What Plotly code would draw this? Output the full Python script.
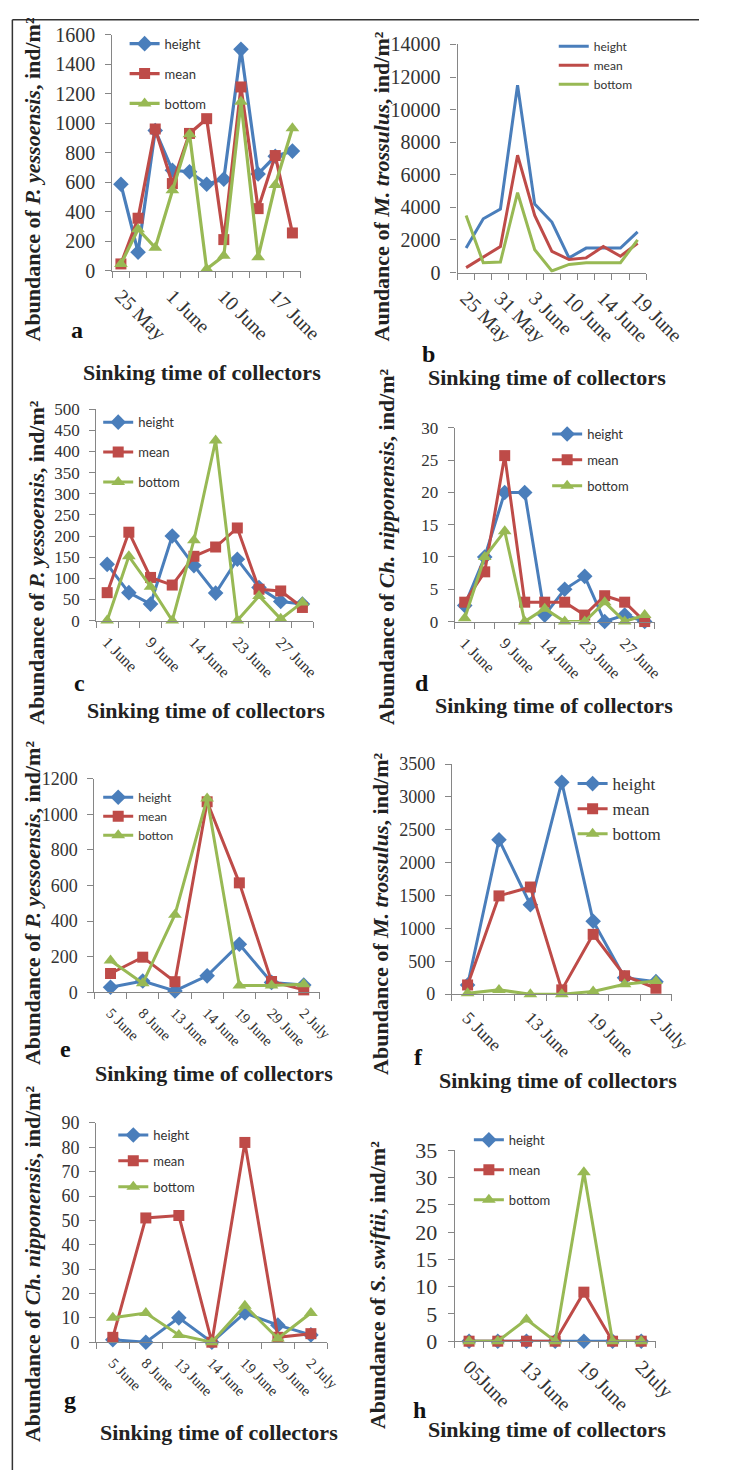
import plotly.graph_objects as go

FIG_W, FIG_H = 739, 1483

# ---------------- data ----------------
SERIES = ["height", "mean", "bottom"]

# a: P. yessoensis, 11 collector sinkings
a_ticks = [0, 3, 6, 9]
a_labels = ["25 May", "1 June", "10 June", "17 June"]
a_height = [585, 125, 950, 680, 670, 585, 620, 1500, 655, 775, 810]
a_mean = [45, 355, 960, 590, 930, 1030, 210, 1245, 420, 780, 255]
a_bottom = [45, 280, 155, 545, 925, 10, 100, 1145, 90, 580, 965]

# b: M. trossulus
b_ticks = [0, 2, 4, 6, 8, 10]
b_labels = ["25 May", "31 May", "3 June", "10 June", "14 June", "19 June"]
b_height = [1500, 3300, 3900, 11500, 4200, 3100, 900, 1500, 1500, 1500, 2500]
b_mean = [300, 950, 1600, 7200, 3500, 1300, 800, 900, 1600, 1000, 1800]
b_bottom = [3500, 600, 650, 4900, 1400, 100, 500, 600, 600, 600, 2000]

# c: P. yessoensis
c_ticks = [0, 2, 4, 6, 8]
c_labels = ["1 June", "9 June", "14 June", "23 June", "27 June"]
c_height = [133, 66, 39, 200, 130, 65, 145, 78, 45, 39]
c_mean = [66, 209, 102, 84, 152, 174, 219, 74, 70, 31]
c_bottom = [0, 152, 80, 0, 190, 426, 0, 58, 4, 43]

# d: Ch. nipponensis
d_ticks = [0, 2, 4, 6, 8]
d_labels = ["1 June", "9 June", "14 June", "23 June", "27 June"]
d_height = [2.5, 10, 20, 20, 1, 5, 7, 0, 1, 0]
d_mean = [3, 7.7, 25.7, 3, 3, 3, 1, 4, 3, 0]
d_bottom = [0.5, 10, 14, 0, 2, 0, 0, 3, 0, 1]

# e: P. yessoensis
e_ticks = [0, 1, 2, 3, 4, 5, 6]
e_labels = ["5 June", "8 June", "13 June", "14 June", "19 June", "29 June", "2 July"]
e_height = [28, 63, 7, 92, 270, 55, 40]
e_mean = [105, 197, 59, 1071, 615, 60, 13]
e_bottom = [178, 50, 436, 1090, 37, 37, 44]

# f: M. trossulus
f_ticks = [0, 2, 4, 6]
f_labels = ["5 June", "13 June", "19 June", "2 July"]
f_height = [140, 2350, 1360, 3225, 1110, 250, 190]
f_mean = [140, 1495, 1630, 65, 910, 280, 90]
f_bottom = [15, 65, 0, 0, 40, 150, 200]

# g: Ch. nipponensis
g_ticks = [0, 1, 2, 3, 4, 5, 6]
g_labels = ["5 June", "8 June", "13 June", "14 June", "19 June", "29 June", "2 July"]
g_height = [1, 0, 10, 0, 12, 7, 3]
g_mean = [2, 51, 52, 0, 82, 2, 3.5]
g_bottom = [10, 12, 3, 0, 15, 1.5, 12]

# h: S. swiftii
h_ticks = [0, 2, 4, 6]
h_labels = ["05June", "13 June", "19 June", "2July"]
h_height = [0, 0, 0, 0, 0, 0, 0]
h_mean = [0, 0, 0, 0, 9, 0, 0]
h_bottom = [0, 0, 4, 0, 31, 0, 0]

# ---------------- styling ----------------
SERIF = "Liberation Serif, Times New Roman, serif"
SANS = "Lato, Carlito, Calibri, sans-serif"
LINE_COLORS = ["#4A7EBB", "#BE4B48", "#98B954"]
SYMBOLS = ["diamond", "square", "triangle-up"]
SYM_SIZE = [12, 11, 12]
AXIS_COLOR = "#868686"
TEXT_COLOR = "#333333"
TITLE_COLOR = "#222222"


def fx(px):
    return px / FIG_W


def fy(py):
    return 1 - py / FIG_H


def ytitle(species, first="Abundance"):
    return f"{first} of <i>{species}</i>, ind/m²"


panels = [
    dict(key="a", series=(a_height, a_mean, a_bottom), ticks=a_ticks, labels=a_labels,
         ymax=1600, dtick=200, box=(117, 317, 23, 263), markers=True, lw=3.2,
         ytf=20, xtf=20, leg=(130, 17, 13, 10, SANS),
         ytitle=(ytitle("P. yessoensis"), 32, 337), xtitle=(212, 367), letter=(80, 323)),
    dict(key="b", series=(b_height, b_mean, b_bottom), ticks=b_ticks, labels=b_labels,
         ymax=14000, dtick=2000, box=(483, 683, 33, 265), markers=False, lw=3,
         ytf=20, xtf=20, leg=(585, 20, 12, 0, SANS),
         ytitle=(ytitle("M. trossulus", "Aundance"), 402, 337), xtitle=(578, 372), letter=(452, 348)),
    dict(key="c", series=(c_height, c_mean, c_bottom), ticks=c_ticks, labels=c_labels,
         ymax=500, dtick=50, box=(100, 330, 404, 619), markers=True, lw=3,
         ytf=17, xtf=16, leg=(102, 402, 13, 10, SANS),
         ytitle=(ytitle("P. yessoensis"), 37, 727), xtitle=(216, 710), letter=(82, 682)),
    dict(key="d", series=(d_height, d_mean, d_bottom), ticks=d_ticks, labels=d_labels,
         ymax=30, dtick=5, box=(480, 692, 423, 620), markers=True, lw=3,
         ytf=17, xtf=16, leg=(578, 414, 13, 6, SANS),
         ytitle=(ytitle("Ch. nipponensis"), 407, 727), xtitle=(585, 705), letter=(445, 683)),
    dict(key="e", series=(e_height, e_mean, e_bottom), ticks=e_ticks, labels=e_labels,
         ymax=1200, dtick=200, box=(98, 337, 780, 997), markers=True, lw=3,
         ytf=18, xtf=15, leg=(102, 784, 12, 0, SANS), names=["height", "mean", "botton"],
         ytitle=(ytitle("P. yessoensis"), 33, 1073), xtitle=(225, 1080), letter=(67, 1055)),
    dict(key="f", series=(f_height, f_mean, f_bottom), ticks=f_ticks, labels=f_labels,
         ymax=3500, dtick=500, box=(477, 710, 765, 999), markers=True, lw=3,
         ytf=18, xtf=18, leg=(605, 767, 17, 0, SERIF),
         ytitle=(ytitle("M. trossulus"), 402, 1083), xtitle=(590, 1087), letter=(442, 1063)),
    dict(key="g", series=(g_height, g_mean, g_bottom), ticks=g_ticks, labels=g_labels,
         ymax=90, dtick=10, box=(100, 345, 1130, 1353), markers=True, lw=3,
         ytf=18, xtf=15, leg=(118, 1127, 13, 6, SANS),
         ytitle=(ytitle("Ch. nipponensis"), 33, 1457), xtitle=(230, 1445), letter=(72, 1412)),
    dict(key="h", series=(h_height, h_mean, h_bottom), ticks=h_ticks, labels=h_labels,
         ymax=35, dtick=5, box=(480, 693, 1158, 1352), markers=True, lw=3,
         ytf=22, xtf=20, leg=(495, 1132, 13, 10, SANS),
         ytitle=(ytitle("S. swiftii"), 398, 1443), xtitle=(578, 1442), letter=(443, 1422)),
]

fig = go.Figure()
layout = dict(
    width=FIG_W, height=FIG_H,
    margin=dict(l=0, r=0, t=0, b=0),
    paper_bgcolor="white", plot_bgcolor="rgba(0,0,0,0)",
    showlegend=True,
)
annotations = []

for i, p in enumerate(panels, start=1):
    sfx = "" if i == 1 else str(i)
    xref, yref = f"x{sfx}", f"y{sfx}"
    legname = f"legend{sfx}"
    n = len(p["series"][0])
    cats = list(range(n))
    names = p.get("names", SERIES)

    for s, vals in enumerate(p["series"]):
        fig.add_trace(go.Scatter(
            x=cats, y=vals, name=names[s],
            mode="lines+markers" if p["markers"] else "lines",
            line=dict(color=LINE_COLORS[s], width=p["lw"]),
            marker=dict(symbol=SYMBOLS[s], size=SYM_SIZE[s], color=LINE_COLORS[s],
                        line=dict(width=0)),
            xaxis=xref, yaxis=yref, legend=legname,
            legendgroup=f"{p['key']}{s}", cliponaxis=False, hoverinfo="skip",
        ))

    x0, x1, ytop, ybot = p["box"]
    layout[f"xaxis{sfx}"] = dict(
        domain=[fx(x0), fx(x1)], anchor=yref, range=[-0.5, n - 0.5],
        tickmode="array", tickvals=p["ticks"], ticktext=p["labels"], tickangle=45,
        ticks="", ticklabelstandoff=5,
        tickfont=dict(family=SERIF, size=p["xtf"], color=TEXT_COLOR),
        showline=True, linecolor=AXIS_COLOR, linewidth=1.3,
        showgrid=False, zeroline=False, fixedrange=True,
        minor=dict(tickmode="array", tickvals=[k - 0.5 for k in range(n + 1)],
                   ticks="outside", ticklen=6, tickcolor=AXIS_COLOR, tickwidth=1.3,
                   showgrid=False),
    )
    layout[f"yaxis{sfx}"] = dict(
        domain=[fy(ybot), fy(ytop)], anchor=xref, range=[0, p["ymax"]],
        tickmode="linear", tick0=0, dtick=p["dtick"], tickformat="d",
        ticks="outside", ticklen=6, tickcolor=AXIS_COLOR, tickwidth=1.3,
        ticklabelstandoff=6,
        tickfont=dict(family=SERIF, size=p["ytf"], color=TEXT_COLOR),
        showline=True, linecolor=AXIS_COLOR, linewidth=1.3,
        showgrid=False, zeroline=False, fixedrange=True,
    )

    lx, ly, lsize, lgap, lfont = p["leg"]
    layout[legname] = dict(
        x=fx(lx), y=fy(ly), xanchor="left", yanchor="top",
        bgcolor="rgba(0,0,0,0)", borderwidth=0, tracegroupgap=lgap,
        font=dict(family=lfont, size=lsize, color=TEXT_COLOR),
        orientation="v",
    )

    ttext, tcx, tbottom = p["ytitle"]
    annotations.append(dict(
        text=ttext, x=fx(tcx), y=fy(tbottom), xref="paper", yref="paper",
        xanchor="center", yanchor="bottom", textangle=-90, showarrow=False,
        font=dict(family=SERIF, size=22, color=TITLE_COLOR, weight="bold"),
    ))
    xcx, xcy = p["xtitle"]
    annotations.append(dict(
        text="Sinking time of collectors", x=fx(xcx), y=fy(xcy), xref="paper", yref="paper",
        xanchor="center", yanchor="middle", showarrow=False,
        font=dict(family=SERIF, size=22, color=TITLE_COLOR, weight="bold"),
    ))
    lcx, lcy = p["letter"]
    annotations.append(dict(
        text=p["key"], x=fx(lcx), y=fy(lcy), xref="paper", yref="paper",
        xanchor="center", yanchor="middle", showarrow=False,
        font=dict(family=SERIF, size=24, color="#111111", weight="bold"),
    ))

layout["annotations"] = annotations
layout["shapes"] = [
    dict(type="line", xref="paper", yref="paper", x0=fx(11), x1=1, y0=fy(8), y1=fy(8),
         line=dict(color="#333333", width=1.5)),
    dict(type="line", xref="paper", yref="paper", x0=fx(11), x1=fx(11), y0=fy(8), y1=0,
         line=dict(color="#333333", width=1.5)),
]

fig.update_layout(**layout)
fig.write_html("out.html", config={"displayModeBar": False})
